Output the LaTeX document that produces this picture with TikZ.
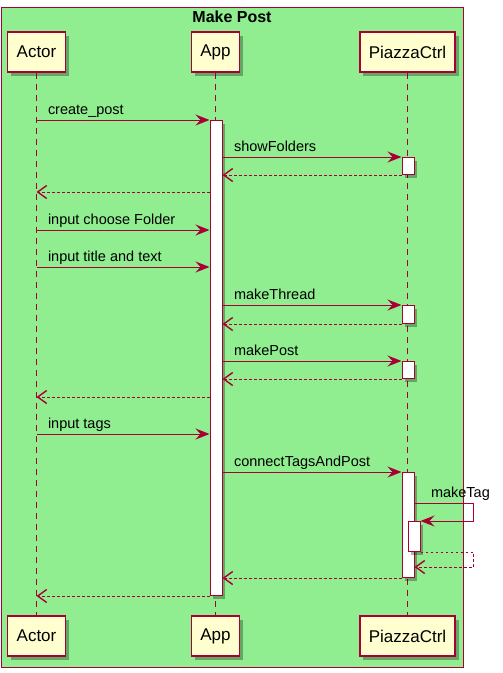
\documentclass[tikz,border=0pt]{standalone}
\usepackage{fontspec}
\setmainfont{Liberation Sans}
\usetikzlibrary{arrows.meta,shadows}

\definecolor{umlred}{HTML}{A80036}
\definecolor{umlyellow}{HTML}{FEFECE}
\definecolor{framegreen}{HTML}{90EE90}

\tikzset{
  msg/.style={draw=umlred, line width=1pt, -{Stealth[length=14pt,width=11pt,inset=5pt]}},
  ret/.style={draw=umlred, line width=1pt, dash pattern=on 2.5pt off 2.5pt, -{Straight Barb[length=9pt,width=13pt,line width=1.4pt]}},
  lifeline/.style={draw=umlred, line width=1.2pt, dash pattern=on 6pt off 5pt},
  lbl/.style={anchor=base west, at start, xshift=11pt, yshift=6pt, inner sep=0pt, font=\fontsize{14.5}{16}\selectfont},
  actbar/.style={rectangle, draw=umlred, fill=white, line width=1pt, minimum width=12pt, inner sep=0pt, anchor=north,
    drop shadow={shadow xshift=3pt, shadow yshift=-3pt, fill=black, opacity=0.3}},
}

\begin{document}
\begin{tikzpicture}[x=1pt, y=-1pt]
  \useasboundingbox (0,0) rectangle (503,673);

  % frame
  \node [draw=umlred, fill=framegreen, line width=1pt, anchor=north west, minimum width=462pt, minimum height=660pt, inner sep=0pt] (frame) at (1,7) {};
  \node [font=\fontsize{16}{18}\selectfont\bfseries] (title) at (232,17) {Make Post};

  \begin{scope}[every node/.style={rectangle, draw=umlred, fill=umlyellow, line width=1.5pt, minimum height=40pt, inner xsep=9pt,
      font=\fontsize{17}{19}\selectfont, drop shadow={shadow xshift=3.5pt, shadow yshift=-3.5pt, fill=black, opacity=0.3}}]
    \node (actor) at (36.5,52) {Actor};
    \node (app) at (215.5,52) {App};
    \node (ctrl) at (407.5,52) {PiazzaCtrl};
    \node (actorB) at (36.5,636) {Actor};
    \node (appB) at (215.5,636) {App};
    \node (ctrlB) at (407.5,636) {PiazzaCtrl};
  \end{scope}

  % lifelines
  \draw [lifeline] (actor.south) -- (actorB.north);
  \draw [lifeline] (app.south) -- (appB.north);
  \draw [lifeline] (ctrl.south) -- (ctrlB.north);

  % activations
  \node [actbar, minimum height=475pt] (appbar) at (216,120) {};
  \node [actbar, minimum height=17pt] (bar1) at (408,157) {};
  \node [actbar, minimum height=18pt] (bar2) at (408,305) {};
  \node [actbar, minimum height=17pt] (bar3) at (408,361) {};
  \node [actbar, minimum height=105pt] (bar4) at (408,472) {};
  \node [actbar, minimum height=30pt] (bar5) at (414,521) {};

  % messages
  \draw [msg] (actor |- appbar.north) -- node [lbl] (m1) {create\_post} (appbar.north west);
  \draw [msg] (appbar.east |- bar1.north) -- node [lbl] (m2) {showFolders} (bar1.north west);
  \draw [ret] (bar1.south west) -- (appbar.east |- bar1.south);
  \draw [ret] (appbar.west |- 0,192) -- (actor |- 0,192);
  \draw [msg] (actor |- 0,230) -- node [lbl] (m3) {input choose Folder} (appbar.west |- 0,230);
  \draw [msg] (actor |- 0,267) -- node [lbl] (m4) {input title and text} (appbar.west |- 0,267);
  \draw [msg] (appbar.east |- bar2.north) -- node [lbl] (m5) {makeThread} (bar2.north west);
  \draw [ret] (bar2.south west) -- (appbar.east |- bar2.south);
  \draw [msg] (appbar.east |- bar3.north) -- node [lbl] (m6) {makePost} (bar3.north west);
  \draw [ret] (bar3.south west) -- (appbar.east |- bar3.south);
  \draw [ret] (appbar.west |- 0,397) -- (actor |- 0,397);
  \draw [msg] (actor |- 0,434) -- node [lbl] (m7) {input tags} (appbar.west |- 0,434);
  \draw [msg] (appbar.east |- bar4.north) -- node [lbl] (m8) {connectTagsAndPost} (bar4.north west);
  \draw [msg] (bar4.east |- 0,503) -- node [lbl, xshift=5pt] (m9) {makeTag} ++(59,0) |- (bar5.north east);
  \draw [ret] (bar5.south east) -- ++(53,0) |- (bar4.east |- 0,567);
  \draw [ret] (bar4.south west) -- (appbar.east |- bar4.south);
  \draw [ret] (appbar.south west) -- (actor |- appbar.south);
\end{tikzpicture}
\end{document}
